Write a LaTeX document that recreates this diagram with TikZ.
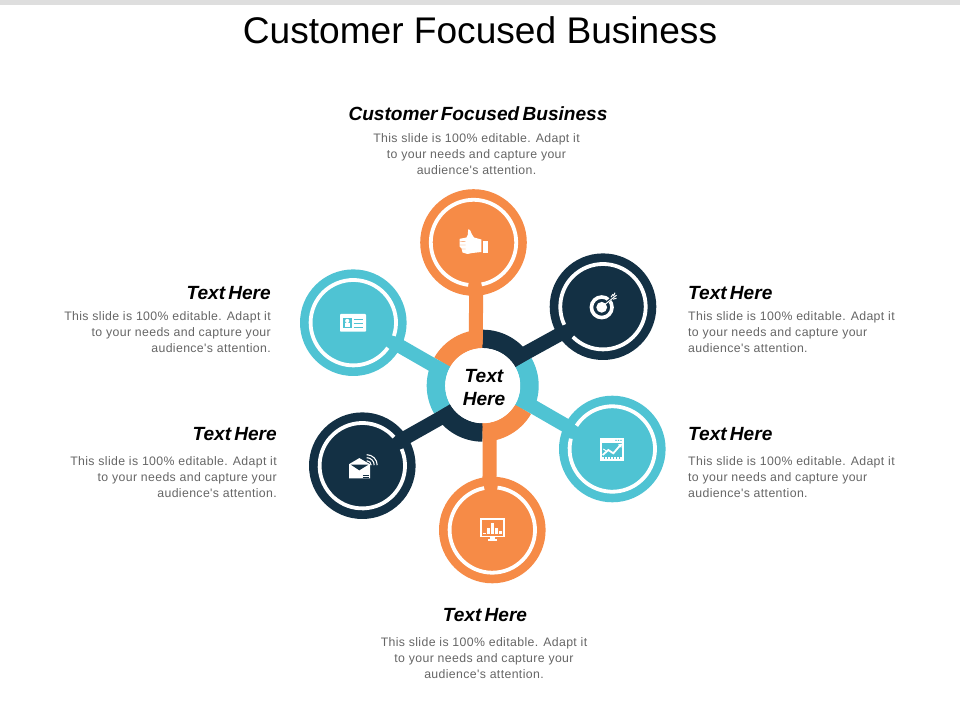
\documentclass[tikz,border=0pt]{standalone}
\usepackage{fontspec}
\setmainfont{Liberation Sans}
\newfontfamily\bodyfont[LetterSpace=3]{Liberation Sans}
\newfontfamily\headfont[WordSpace=0.6]{Liberation Sans}
\usetikzlibrary{calc}
\definecolor{orangeC}{HTML}{F68B47}
\definecolor{navyC}{HTML}{133044}
\definecolor{tealC}{HTML}{4FC3D3}
\definecolor{bodyC}{HTML}{666666}
\tikzset{
  x=1pt,y=1pt,
  disc/.style={circle,minimum size=106.6pt,inner sep=0pt,fill=#1},
  bar/.style={line width=14pt,draw=#1},
  whitering/.style={draw=white,line width=3.8pt},
  headtext/.style={font=\headfont\fontsize{19.1}{23}\selectfont\bfseries\itshape,text=black,inner sep=0pt,align=center},
  bodytext/.style={font=\bodyfont\fontsize{12.3}{16}\selectfont,text=bodyC,inner sep=0pt},
  seg/.style={line width=18.5pt,draw=#1},
  icon/.style={fill=white,draw=none},
  iconline/.style={draw=white,line width=#1},
}
\newcommand{\ringarc}[3]{\draw[whitering] ($(#1)+(#2:42.7)$) arc[start angle=#2,end angle=#3,radius=42.7pt];}
\newcommand{\bodylines}{This slide is 100\% editable. Adapt it\\to your needs and capture your\\audience's attention.}
\begin{document}
\begin{tikzpicture}
\useasboundingbox (0,0) rectangle (960,720);
\fill[white] (0,0) rectangle (960,720);
\fill[black!13] (0,715) rectangle (960,720);
\node[inner sep=0pt,font=\fontsize{37.1}{40}\selectfont] (title) at (480,689.5) {Customer Focused Business};

\coordinate (o) at (482.7,334.3);
\draw[seg=orangeC] ($(o)+(90:46.75)$) arc[start angle=90,end angle=150,radius=46.75pt];
\draw[seg=tealC] ($(o)+(150:46.75)$) arc[start angle=150,end angle=210,radius=46.75pt];
\draw[seg=navyC] ($(o)+(210:46.75)$) arc[start angle=210,end angle=270,radius=46.75pt];
\draw[seg=orangeC] ($(o)+(270:46.75)$) arc[start angle=270,end angle=330,radius=46.75pt];
\draw[seg=tealC] ($(o)+(330:46.75)$) arc[start angle=330,end angle=390,radius=46.75pt];
\draw[seg=navyC] ($(o)+(30:46.75)$) arc[start angle=30,end angle=90,radius=46.75pt];
\node[circle,fill=white,minimum size=75pt,inner sep=0pt] (c) at (o) {};
\node[inner sep=0pt,font=\headfont\fontsize{19.1}{23}\selectfont\bfseries\itshape,align=center] (ct) at (484,332.5) {Text\\Here};

\node[disc=orangeC] (n1) at (473.5,477.5) {};
\node[disc=navyC] (n2) at (603,413.3) {};
\node[disc=tealC] (n3) at (612.3,271) {};
\node[disc=orangeC] (n4) at (492.3,190) {};
\node[disc=navyC] (n5) at (362.3,254.3) {};
\node[disc=tealC] (n6) at (353.3,397.3) {};

\draw[bar=orangeC] ($(c.center)+(90:42)+(180:7)$) -- ($(n1)!43pt!(c.center)$);
\draw[bar=navyC] ($(c.center)+(30:42)+(120:7)$) -- ($(n2)!43pt!(c.center)$);
\draw[bar=tealC] ($(c.center)+(-30:42)+(60:7)$) -- ($(n3)!43pt!(c.center)$);
\draw[bar=orangeC] ($(c.center)+(-90:42)+(0:7)$) -- ($(n4)!43pt!(c.center)$);
\draw[bar=navyC] ($(c.center)+(210:42)+(300:7)$) -- ($(n5)!43pt!(c.center)$);
\draw[bar=tealC] ($(c.center)+(150:42)+(240:7)$) -- ($(n6)!43pt!(c.center)$);

\ringarc{n1}{281}{623}
\ringarc{n2}{225}{565}
\ringarc{n3}{166}{507}
\ringarc{n4}{101}{443}
\ringarc{n5}{42}{383}
\ringarc{n6}{-18}{324}

% thumb
\begin{scope}[shift={(n1.center)}]
\fill[icon] (9,1.8) rectangle (14.8,-10.2);
\fill[icon] (-5.4,13.2) -- (-3.6,12.6) -- (-1.5,8) -- (0.5,5) -- (7.8,3) -- (7.8,-9.5) -- (-1,-10.5) -- (-6,-11.5) -- (-11,-10) -- (-12,-6) -- (-14,-4) -- (-14,3.6) -- (-7,5) -- (-5.6,8) -- cycle;
\draw[orangeC,line width=.35pt] (-14,1) -- (-8,1.2) (-14,-2.5) -- (-8,-2.5) (-12,-6.5) -- (-8,-6.5);
\end{scope}
% target
\begin{scope}[shift={(n2.center)}]
\draw[white,line width=3.6pt] (-1.3,-0.6) circle[radius=10.3pt];
\draw[navyC,line width=2.4pt] (3,3.5) -- (9,9);
\fill[icon] (-1.3,-0.6) circle[radius=5.4pt];
\draw[iconline=1pt] (1,1.5) -- (13.5,11.5);
\draw[iconline=1pt] (8,9.5) -- (10,12.5) (10,7.5) -- (13.5,8.5) (10.5,10.5) -- (12,14);
\end{scope}
% chart
\begin{scope}[shift={(n3.center)}]
\draw[iconline=1.7pt] (-11,10) rectangle (10.4,-11);
\fill[icon] (-11.6,10.7) rectangle (11,6);
\fill[tealC] (3,8.2) rectangle +(1.2,1) (5.6,8.2) rectangle +(1.2,1) (8,8.2) rectangle +(1.2,1);
\draw[iconline=1.8pt] (-9.6,-6) -- (-4,-1) -- (1,-4.3) -- (8,3.8);
\fill[icon] (9.8,5.4) -- (5.6,4.4) -- (8.9,1.2) -- cycle;
\draw[iconline=1.4pt,dash pattern=on 1.2pt off 1.8pt] (-10,-9) -- (10,-9);
\draw[iconline=1pt] (-9,0) -- (-6,-2);
\end{scope}
% monitor
\begin{scope}[shift={(n4.center)}]
\draw[iconline=1.7pt] (-11.6,11) rectangle (12,-6.6);
\fill[icon] (-2,-7) rectangle (2.4,-9.5);
\fill[icon] (-4,-9.5) rectangle (4.4,-11);
\fill[icon] (-9.8,-4) rectangle +(3,1.4);
\fill[icon] (-5.5,-4) rectangle +(3,5.7);
\fill[icon] (-1.5,-4) rectangle +(3,10.7);
\fill[icon] (2.9,-4) rectangle +(3,5.7);
\fill[icon] (6.9,-4) rectangle +(3,3.3);
\end{scope}
% envelope
\begin{scope}[shift={(n5.center)}]
\fill[icon] (-13.3,1.5) -- (-3,7.6) -- (7.7,1.5) -- (7.7,-12.6) -- (-13.3,-12.6) -- cycle;
\fill[navyC] (-11.5,1) -- (6,1) -- (-3,-4.6) -- cycle;
\draw[navyC,line width=.7pt] (0.5,-9.6) -- (6.5,-9.6) (0.5,-11.2) -- (6.5,-11.2);
\draw[iconline=1.1pt] (4.4,5) arc[start angle=90,end angle=0,radius=4.5pt];
\draw[iconline=1.1pt] (4.4,8) arc[start angle=90,end angle=0,radius=7.5pt];
\draw[iconline=1.1pt] (4.4,11) arc[start angle=90,end angle=0,radius=10.5pt];
\end{scope}
% card
\begin{scope}[shift={(n6.center)}]
\fill[icon,rounded corners=.8pt] (-13.3,8.7) rectangle (12.7,-9);
\fill[tealC] (-10.6,4.4) rectangle (-1.6,-5.6);
\fill[icon] (-6.1,1.8) circle[radius=2.1pt];
\fill[icon] (-8.8,-4.4) rectangle (-3.4,-0.4);
\draw[tealC,line width=1.5pt] (0.4,3.4) -- (10,3.4) (0.4,-0.6) -- (10,-0.6) (0.4,-4.6) -- (10,-4.6);
\end{scope}

% texts
\node[headtext,anchor=center] (h1) at (478,606) {Customer Focused Business};
\node[bodytext,align=center,anchor=center] (b1) at (476.5,566) {\bodylines};
\node[headtext,anchor=east] (h6) at (271,427) {Text Here};
\node[bodytext,align=right,anchor=east] (b6) at (271,388) {\bodylines};
\node[headtext,anchor=east] (h5) at (277,286) {Text Here};
\node[bodytext,align=right,anchor=east] (b5) at (277,243) {\bodylines};
\node[headtext,anchor=west] (h2) at (688,427) {Text Here};
\node[bodytext,align=left,anchor=west] (b2) at (688,388) {\bodylines};
\node[headtext,anchor=west] (h3) at (688,286) {Text Here};
\node[bodytext,align=left,anchor=west] (b3) at (688,243) {\bodylines};
\node[headtext,anchor=center] (h4) at (485,105) {Text Here};
\node[bodytext,align=center,anchor=center] (b4) at (484,62) {\bodylines};
\end{tikzpicture}
\end{document}
